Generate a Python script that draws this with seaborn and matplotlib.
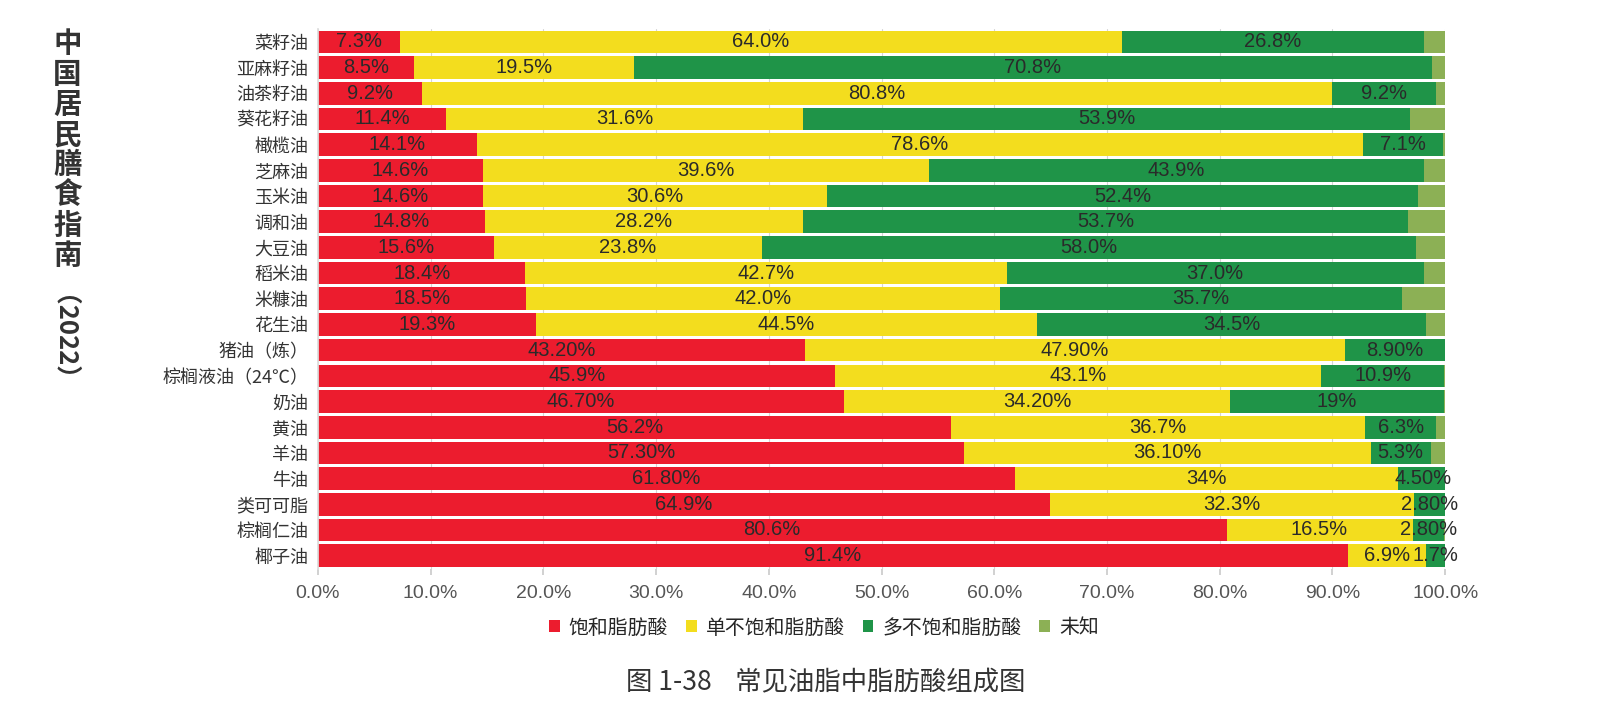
import numpy as np
import pandas as pd
import seaborn as sns
import matplotlib.pyplot as plt
from matplotlib.patches import Patch

# data (top to bottom)
oils = ["菜籽油", "亚麻籽油", "油茶籽油", "葵花籽油", "橄榄油", "芝麻油", "玉米油",
        "调和油", "大豆油", "稻米油", "米糠油", "花生油", "猪油（炼）",
        "棕榈液油（24℃）", "奶油", "黄油", "羊油", "牛油", "类可可脂", "棕榈仁油", "椰子油"]
sat = [7.3, 8.5, 9.2, 11.4, 14.1, 14.6, 14.6, 14.8, 15.6, 18.4, 18.5, 19.3,
       43.2, 45.9, 46.7, 56.2, 57.3, 61.8, 64.9, 80.6, 91.4]
mono = [64.0, 19.5, 80.8, 31.6, 78.6, 39.6, 30.6, 28.2, 23.8, 42.7, 42.0, 44.5,
        47.9, 43.1, 34.2, 36.7, 36.1, 34.0, 32.3, 16.5, 6.9]
poly = [26.8, 70.8, 9.2, 53.9, 7.1, 43.9, 52.4, 53.7, 58.0, 37.0, 35.7, 34.5,
        8.9, 10.9, 19.0, 6.3, 5.3, 4.5, 2.8, 2.8, 1.7]
sat_labels = ["7.3%", "8.5%", "9.2%", "11.4%", "14.1%", "14.6%", "14.6%", "14.8%",
              "15.6%", "18.4%", "18.5%", "19.3%", "43.20%", "45.9%", "46.70%",
              "56.2%", "57.30%", "61.80%", "64.9%", "80.6%", "91.4%"]
mono_labels = ["64.0%", "19.5%", "80.8%", "31.6%", "78.6%", "39.6%", "30.6%", "28.2%",
               "23.8%", "42.7%", "42.0%", "44.5%", "47.90%", "43.1%", "34.20%",
               "36.7%", "36.10%", "34%", "32.3%", "16.5%", "6.9%"]
poly_labels = ["26.8%", "70.8%", "9.2%", "53.9%", "7.1%", "43.9%", "52.4%", "53.7%",
               "58.0%", "37.0%", "35.7%", "34.5%", "8.90%", "10.9%", "19%",
               "6.3%", "5.3%", "4.50%", "2.80%", "2.80%", "1.7%"]
series_names = ["饱和脂肪酸", "单不饱和脂肪酸", "多不饱和脂肪酸", "未知"]
colors = ["#EC1C2E", "#F3DD1E", "#1F9448", "#8CB055"]

sns.set_theme(style="white")
plt.rcParams["font.family"] = ["Noto Sans CJK SC", "DejaVu Sans"]
num_font = ["Liberation Sans", "DejaVu Sans"]

df = pd.DataFrame({"oil": oils, "sat": sat, "mono": mono, "poly": poly})
df["c1"] = df["sat"]
df["c2"] = df["c1"] + df["mono"]
df["c3"] = df["c2"] + df["poly"]
df["c4"] = 100.0

fig = plt.figure(figsize=(16.09, 7.08), dpi=100)
ax = fig.add_axes([0.1976, 0.197, 0.7006, 0.762])

# stacked bars: draw cumulative totals from the outermost segment inwards
for col, color in zip(["c4", "c3", "c2", "c1"], colors[::-1]):
    sns.barplot(data=df, x=col, y="oil", orient="h", color=color, saturation=1,
                width=0.88, ax=ax, edgecolor="none")

ax.set_xlim(0, 100)
ax.set_ylim(len(oils) - 0.5, -0.5)
ticks = np.arange(0, 101, 10)
ax.set_xticks(ticks)
ax.set_xticklabels([f"{v:.1f}%" for v in ticks], fontsize=14, color="#555555",
                   family=num_font)
ax.tick_params(axis="y", labelsize=13, labelcolor="#333333", length=3, color="#cccccc", pad=4)
ax.tick_params(axis="x", length=4, color="#cccccc", pad=8, bottom=True)
ax.set_xlabel("")
ax.set_ylabel("")
ax.xaxis.grid(True, color="#d5d5d5", lw=0.8)
ax.set_axisbelow(True)
for s in ["top", "right", "bottom"]:
    ax.spines[s].set_visible(False)
ax.spines["left"].set_color("#dddddd")

# value labels centred on each segment
for i in range(len(oils)):
    starts = [0, df["c1"][i], df["c2"][i]]
    widths = [sat[i], mono[i], poly[i]]
    labels = [sat_labels[i], mono_labels[i], poly_labels[i]]
    for st, w, lab in zip(starts, widths, labels):
        ax.text(st + w / 2, i, lab, ha="center", va="center", fontsize=14.5,
                color="#2a2a2a", family=num_font)

handles = [Patch(facecolor=c, edgecolor="none") for c in colors]
fig.legend(handles, series_names, loc="center", bbox_to_anchor=(0.512, 0.113), ncol=4,
           frameon=False, fontsize=14.3, handlelength=0.55, handleheight=0.55,
           handletextpad=0.45, columnspacing=0.9)

fig.text(0.513, 0.035, "图 1-38    常见油脂中脂肪酸组成图", ha="center", va="center",
         fontsize=19, color="#333333")

# vertical side title
fig.text(0.042, 0.957, "\n".join("中国居民膳食指南"), ha="center", va="top",
         fontsize=20.5, fontweight="bold", color="#333333", linespacing=1.1)
fig.text(0.031, 0.583, "（2022）", ha="center", va="top", rotation=-90,
         fontsize=18.5, fontweight="bold", color="#333333")

fig.savefig("out.png", dpi=100)
